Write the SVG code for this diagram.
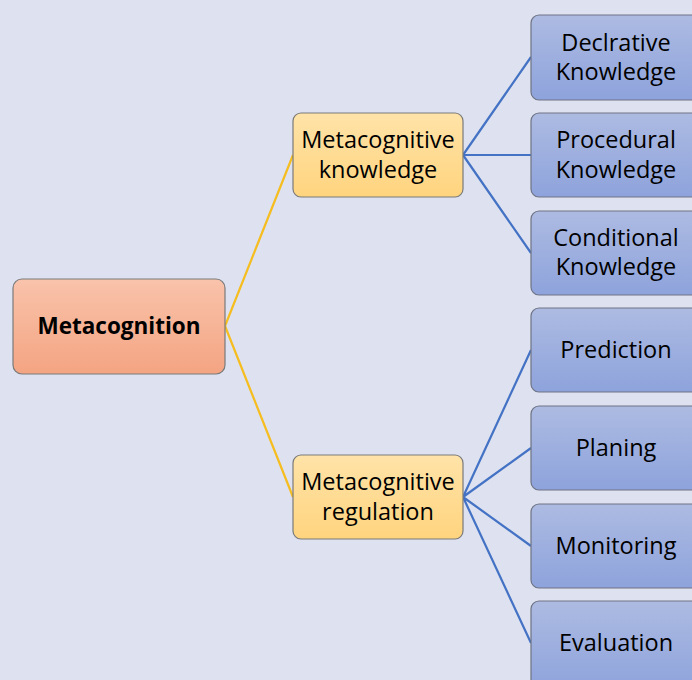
<svg xmlns="http://www.w3.org/2000/svg" width="692" height="680" viewBox="0 0 692 680">
<defs>
<linearGradient id="gRoot" x1="0" y1="0" x2="0" y2="1"><stop offset="0" stop-color="#f9c3ab"/><stop offset="1" stop-color="#f4a482"/></linearGradient>
<linearGradient id="gMid" x1="0" y1="0" x2="0" y2="1"><stop offset="0" stop-color="#ffe3a8"/><stop offset="1" stop-color="#ffd47e"/></linearGradient>
<linearGradient id="gLeaf" x1="0" y1="0" x2="0" y2="1"><stop offset="0" stop-color="#adbbe2"/><stop offset="1" stop-color="#8ea3dc"/></linearGradient>
<style>
.box{stroke:#7a7a7a;stroke-width:1.2}
.root{fill:url(#gRoot)}
.mid{fill:url(#gMid)}
.leaf{fill:url(#gLeaf);stroke:#6e7384}
text{font-family:"Open Sans","Liberation Sans",sans-serif;font-size:23.5px;fill:#000;text-anchor:middle}
.b{font-weight:bold;font-size:22.5px}
.y{stroke:#f5bd1f;stroke-width:2.2;fill:none}
.bl{stroke:#4472c4;stroke-width:2.2;fill:none}
</style>
</defs>
<rect width="692" height="680" fill="#dee2f0"/>
<g id="connectors">
<path class="y" d="M225,326 L293,155 M225,326 L293,497"/>
<path class="bl" d="M463,155 L531,57 M463,155 L531,155 M463,155 L531,253"/>
<path class="bl" d="M463,497 L531,350 M463,497 L531,448 M463,497 L531,546 M463,497 L531,643"/>
</g>
<g id="metacognition"><rect class="box root" x="13" y="279" width="212" height="95" rx="9"/><text class="b" x="119" y="334">Metacognition</text></g>
<g id="meta-knowledge"><rect class="box mid" x="293" y="113" width="170" height="84" rx="8"/><text x="378" y="148">Metacognitive</text><text x="378" y="178">knowledge</text></g>
<g id="meta-regulation"><rect class="box mid" x="293" y="455" width="170" height="84" rx="8"/><text x="378" y="490">Metacognitive</text><text x="378" y="520">regulation</text></g>
<g id="declarative"><rect class="box leaf" x="531" y="15" width="170" height="85" rx="8"/><text x="616" y="51">Declrative</text><text x="616" y="80">Knowledge</text></g>
<g id="procedural"><rect class="box leaf" x="531" y="113" width="170" height="84" rx="8"/><text x="616" y="148">Procedural</text><text x="616" y="178">Knowledge</text></g>
<g id="conditional"><rect class="box leaf" x="531" y="211" width="170" height="84" rx="8"/><text x="616" y="246">Conditional</text><text x="616" y="275">Knowledge</text></g>
<g id="prediction"><rect class="box leaf" x="531" y="308" width="170" height="84" rx="8"/><text x="616" y="358">Prediction</text></g>
<g id="planing"><rect class="box leaf" x="531" y="406" width="170" height="84" rx="8"/><text x="616" y="456">Planing</text></g>
<g id="monitoring"><rect class="box leaf" x="531" y="504" width="170" height="84" rx="8"/><text x="616" y="554">Monitoring</text></g>
<g id="evaluation"><rect class="box leaf" x="531" y="601" width="170" height="90" rx="8"/><text x="616" y="651">Evaluation</text></g>
</svg>
